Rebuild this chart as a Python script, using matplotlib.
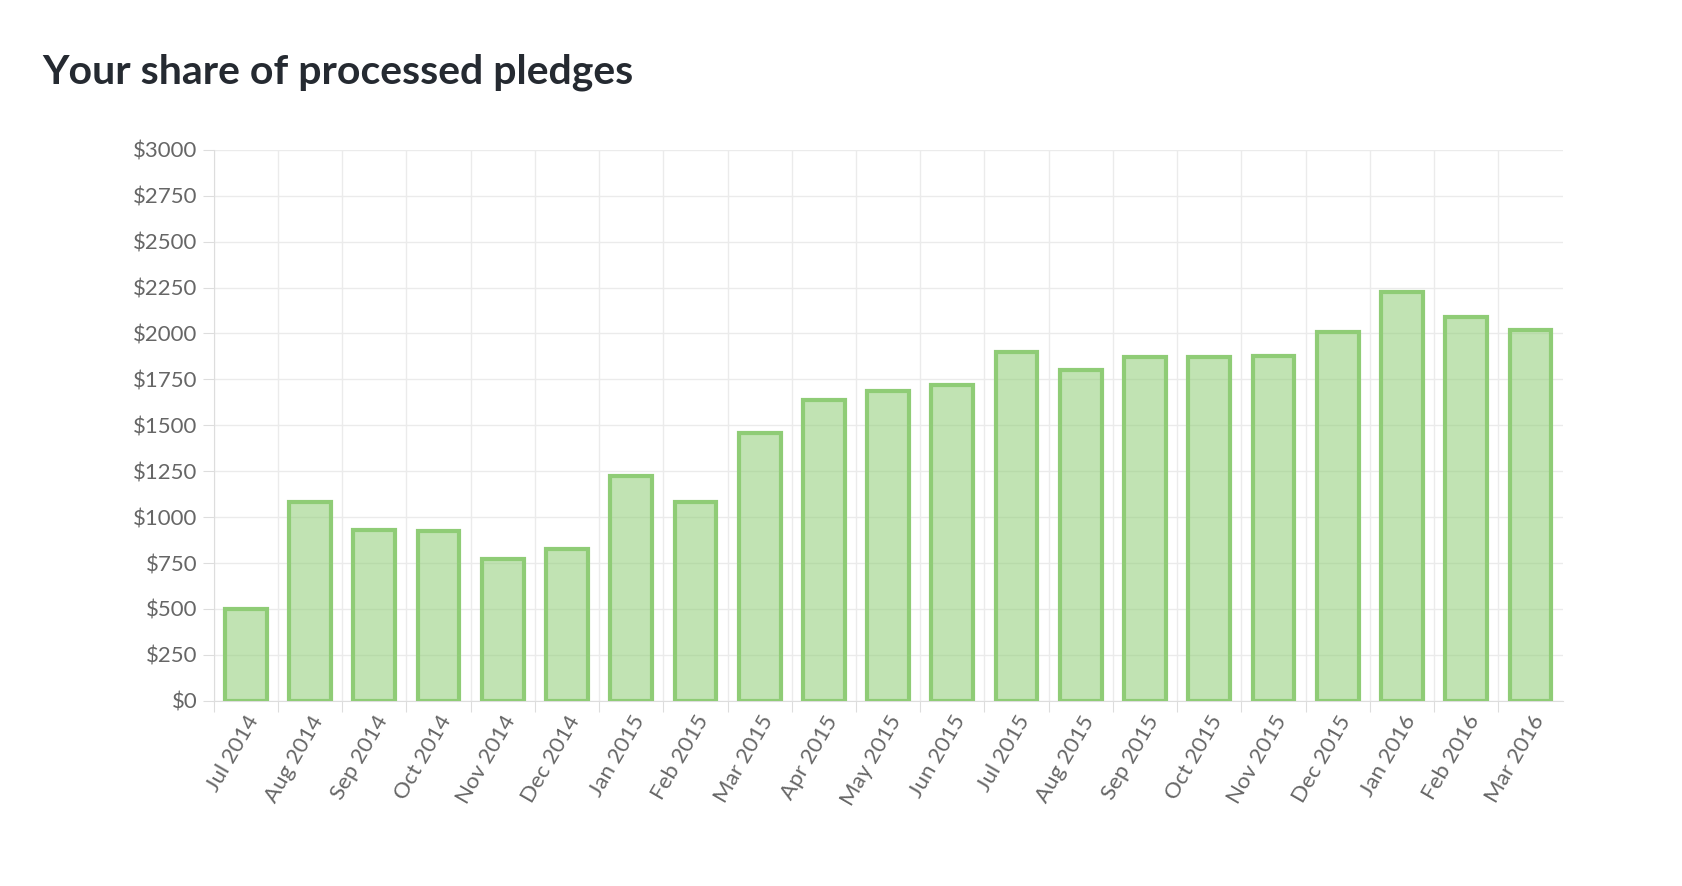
import matplotlib
matplotlib.use("Agg")
import matplotlib.pyplot as plt

months = ["Jul 2014","Aug 2014","Sep 2014","Oct 2014","Nov 2014","Dec 2014","Jan 2015","Feb 2015",
          "Mar 2015","Apr 2015","May 2015","Jun 2015","Jul 2015","Aug 2015","Sep 2015","Oct 2015",
          "Nov 2015","Dec 2015","Jan 2016","Feb 2016","Mar 2016"]
values = [500,1085,930,924,772,825,1222,1082,1456,1637,1684,1719,1900,1801,1871,1871,1877,2006,2228,2088,2018]
yticks = list(range(0, 3001, 250))

plt.rcParams["font.family"] = "Lato"
fig = plt.figure(figsize=(16.82, 8.86), dpi=100)
ax = fig.add_axes([0.127, 0.209, 0.802, 0.622])
x = range(len(months))
ax.bar(x, values, width=0.65, color=(0.56, 0.80, 0.46, 0.55), edgecolor="#8fcc76", linewidth=3, zorder=3)
ax.set_xlim(-0.5, len(months) - 0.5)
ax.set_ylim(0, 3000)
ax.set_yticks(yticks)
ax.set_yticklabels([f"${v}" for v in yticks], fontsize=16, color="#666666")
ax.set_xticks([i - 0.5 for i in x], minor=False)
ax.set_xticklabels([])
ax.set_xticks(list(x), minor=True)
ax.set_xticklabels(months, minor=True, rotation=60, ha="right", rotation_mode="anchor", fontsize=16, color="#666666")
ax.tick_params(axis="x", which="minor", length=0, pad=8)
ax.tick_params(axis="x", which="major", length=8, color="#dddddd")
ax.tick_params(axis="y", length=8, color="#dddddd")
ax.grid(True, which="major", color="#ebebeb", linewidth=1, zorder=0)
for s in ["top", "right"]:
    ax.spines[s].set_visible(False)
for s in ["left", "bottom"]:
    ax.spines[s].set_color("#dddddd")
fig.text(0.025, 0.918, "Your share of processed pledges", fontsize=29.5, fontweight="bold", color="#252a31", va="center")
fig.savefig("out.png")
